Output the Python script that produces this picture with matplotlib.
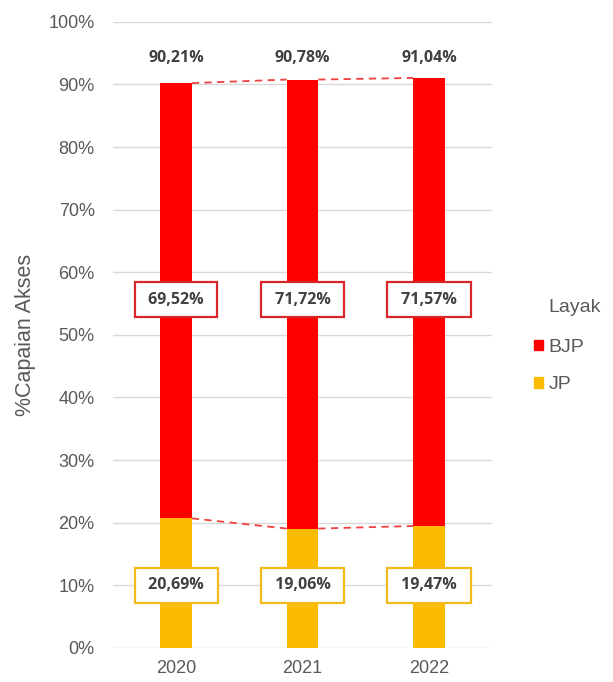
import matplotlib
matplotlib.use('Agg')
from matplotlib import pyplot as plt
from matplotlib.patches import Patch
import numpy as np

years = ['2020', '2021', '2022']
jp = [20.69, 19.06, 19.47]
bjp = [69.52, 71.72, 71.57]
total = [90.21, 90.78, 91.04]
jp_labels = ['20,69%', '19,06%', '19,47%']
bjp_labels = ['69,52%', '71,72%', '71,57%']
total_labels = ['90,21%', '90,78%', '91,04%']

red = '#FF0000'
yellow = '#FBBC00'
grey = '#595959'
lab = '#404040'

plt.rcParams['font.family'] = ['Liberation Sans', 'DejaVu Sans']

fig = plt.figure(figsize=(6.13, 6.82), dpi=100)
ax = fig.add_axes([0.184, 0.050, 0.619, 0.918])

x = np.arange(len(years))
w = 0.25
ax.bar(x, jp, w, color=yellow, zorder=2)
ax.bar(x, bjp, w, bottom=jp, color=red, zorder=2)

# dashed connectors between bar tops
for i in range(len(x) - 1):
    ax.plot([x[i] + w / 2, x[i + 1] - w / 2], [total[i], total[i + 1]],
            ls=(0, (4, 3)), color='#F04040', lw=1.3, zorder=3)
    ax.plot([x[i] + w / 2, x[i + 1] - w / 2], [jp[i], jp[i + 1]],
            ls=(0, (4, 3)), color='#F04040', lw=1.3, zorder=3)

vfont = dict(ha='center', va='center', fontsize=11.5, fontweight='bold', color=lab,
             family=['Open Sans', 'DejaVu Sans'])
for i in range(len(x)):
    ax.text(x[i], 94.3, total_labels[i], **vfont)
    ax.text(x[i], 55.6, ' ' + bjp_labels[i] + ' ', zorder=4, **vfont,
            bbox=dict(boxstyle='square,pad=0.6', fc='white', ec='#D9262B', lw=1.6))
    ax.text(x[i], 10.0, ' ' + jp_labels[i] + ' ', zorder=4, **vfont,
            bbox=dict(boxstyle='square,pad=0.6', fc='white', ec='#F2BA1A', lw=1.6))

ax.set_xlim(-0.5, 2.5)
ax.set_ylim(0, 100)
ax.set_yticks(np.arange(0, 101, 10))
ax.set_yticklabels([f'{v}%' for v in range(0, 101, 10)])
ax.set_xticks(x)
ax.set_xticklabels(years)
ax.tick_params(length=0, labelsize=13, colors=grey, pad=13)
ax.tick_params(axis='x', pad=9)
ax.grid(axis='y', color='#D9D9D9', lw=1, zorder=0)
for s in ax.spines.values():
    s.set_visible(False)
ax.set_ylabel('%Capaian Akses', fontsize=15.5, color=grey, labelpad=9)

handles = [Patch(color=red, label='BJP'), Patch(color=yellow, label='JP')]
fig.legend(handles=handles, loc='center left', bbox_to_anchor=(0.843, 0.463),
           frameon=False, handlelength=0.45, handleheight=0.45, handletextpad=0.3,
           labelspacing=1.05, fontsize=14, labelcolor=grey)
fig.text(0.894, 0.549, 'Layak', fontsize=14, color=grey, ha='left', va='center')

fig.savefig('out.png', dpi=100)
